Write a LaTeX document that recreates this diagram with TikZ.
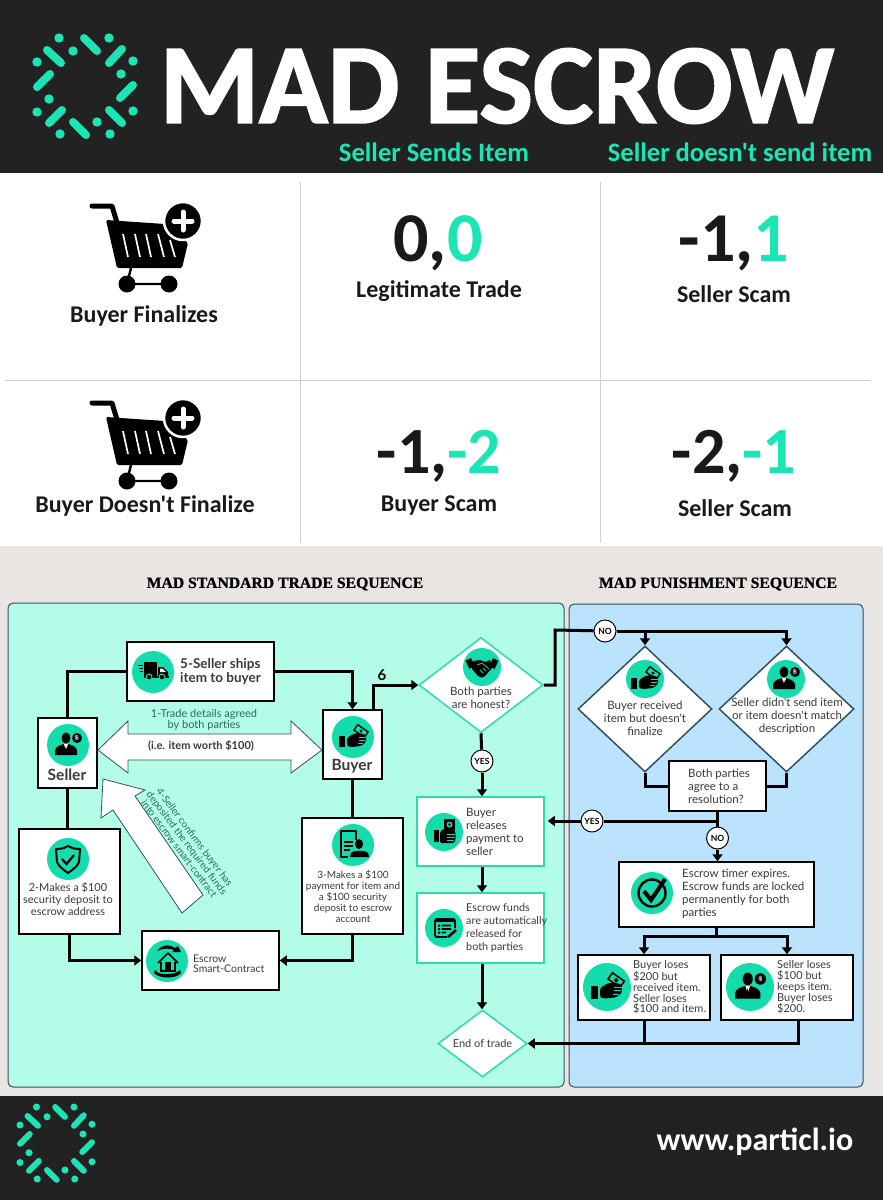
\documentclass[tikz,border=0pt]{standalone}
\usepackage{fontspec}
\newfontfamily\calfont{Carlito}
\newfontfamily\titlefont{Carlito}[BoldFeatures={FakeBold=1.6}]
\newfontfamily\chartfont{Lato}
\newfontfamily\headfont{Liberation Serif}[BoldFeatures={FakeBold=0.8}]
\usetikzlibrary{arrows.meta,shapes.geometric}
\definecolor{darkbar}{HTML}{222222}
\definecolor{mint}{HTML}{14DCAC}
\definecolor{headmint}{HTML}{1CE5B5}
\definecolor{sandbg}{HTML}{E9E5E2}
\definecolor{greenpanel}{HTML}{B3FCE8}
\definecolor{bluepanel}{HTML}{BBE3FD}
\definecolor{gridgrey}{HTML}{CFCFCF}
\definecolor{tealline}{HTML}{2CDAB0}
\definecolor{slateline}{HTML}{33505F}
\definecolor{tealtext}{HTML}{2B6B60}
\definecolor{bodytext}{HTML}{3A3A3A}
\tikzset{
  bigtext/.style={font=\calfont\fontsize{24}{28}\selectfont\bfseries,text=black!90},
  score/.style={font=\calfont\fontsize{70}{74}\selectfont\bfseries,text=black!90},
  scorelow/.style={font=\calfont\fontsize{66}{70}\selectfont\bfseries,text=black!90},
  headtext/.style={font=\calfont\fontsize{26.6}{30}\selectfont\bfseries,text=headmint},
  seqhead/.style={font=\headfont\fontsize{15.7}{20}\selectfont\bfseries,text=black},
  boxblack/.style={draw=black,line width=1.5pt,fill=white,inner sep=0pt},
  boxteal/.style={draw=tealline,line width=1.5pt,fill=white,inner sep=0pt},
  dmdteal/.style={diamond,draw=tealline,line width=1.5pt,fill=white,inner sep=0pt},
  dmdslate/.style={diamond,draw=slateline,line width=1.5pt,fill=white,inner sep=0pt},
  badge/.style={circle,draw=black,line width=1pt,fill=white,inner sep=0pt,minimum size=22pt,
    font=\chartfont\fontsize{8.5}{10}\selectfont\bfseries},
  bubble/.style={circle,fill=mint,inner sep=0pt},
  flowtext/.style={font=\chartfont\fontsize{11.5}{13}\selectfont,text=bodytext},
  flowline/.style={line width=3pt,draw=black},
  flowto/.style={flowline,-{Triangle[width=10pt,length=7pt]}},
  blockarrow/.style={draw=slateline,line width=.8pt,fill=white,line join=miter},
  logobar/.style={line width=8pt,line cap=round,draw=headmint},
  % icons: drawn for a bubble of radius 21 around the origin
  sellericon/.pic={
    \fill[black] (-2,-7) ellipse[x radius=4.4,y radius=5.6];
    \fill[black] (-13,10) -- (-13,5) .. controls (-12,1) and (-7,0) .. (-4,-1) -- (0,-1) .. controls (3,0) and (8,1) .. (9,5) -- (9,10) -- cycle;
    \fill[white] (-4,-1) -- (0,-1) -- (-2,6) -- cycle;
    \fill[black] (-2,1) -- (-1,5) -- (-2,7) -- (-3,5) -- cycle;
    \fill[black] (9,-7) circle[radius=5];
    \node[text=white,inner sep=0pt,font=\fontsize{7}{7}\selectfont\bfseries] at (9,-7) {\$};
  },
  buyericon/.pic={
    \fill[black] (-14,-1) rectangle (-8,10);
    \fill[black,rotate around={-35:(8,-6)}] (1,-10) rectangle (15,-2);
    \fill[mint,rotate around={-35:(8,-6)}] (2.5,-8.5) rectangle (13.5,-3.5);
    \fill[black,rotate around={-35:(8,-6)}] (8,-6) circle[radius=1.8];
    \fill[black,rounded corners=1.5pt] (-6,1) -- (0,-3) -- (6,-4) -- (13,-2) -- (13,5) -- (8,9) -- (-2,10) -- (-6,9) -- cycle;
    \draw[mint,line width=.7pt] (6,0) -- (13,0) (6,3) -- (12,3) (5,6) -- (10,6);
  },
  truckicon/.pic={
    \fill[black] (-9,-10) rectangle (4,4);
    \fill[black] (5,-5) -- (10,-5) -- (15,0) -- (15,4) -- (5,4) -- cycle;
    \fill[black] (-9,4) rectangle (16,5.5);
    \fill[white] (7,-3.5) -- (9.5,-3.5) -- (12.8,0) -- (7,0) -- cycle;
    \filldraw[fill=black,draw=mint,line width=1pt] (-4,5) circle[radius=3];
    \filldraw[fill=black,draw=mint,line width=1pt] (9,5) circle[radius=3];
    \draw[black,line width=1pt] (-15,-7) -- (-10,-7) (-14,-4) -- (-10,-4) (-13,-1) -- (-10,-1);
  },
  shieldicon/.pic={
    \draw[black,line width=2pt,line join=round] (0,-13) .. controls (-5,-10) and (-9,-10) .. (-12,-10) -- (-11,3) .. controls (-9,8) and (-4,11) .. (0,14) .. controls (4,11) and (9,8) .. (11,3) -- (12,-10) .. controls (9,-10) and (5,-10) .. (0,-13) -- cycle;
    \draw[black,line width=2.2pt] (-6,0) -- (-1.5,5) -- (6,-4);
  },
  docicon/.pic={
    \draw[black,line width=1.6pt,line join=round] (-5,12) -- (-12,12) -- (-12,-14) -- (3,-14) -- (3,-5);
    \draw[black,line width=1.2pt] (-9,-3) -- (0,-3) (-9,1) -- (0,1) (-9,5) -- (-3,5);
    \fill[black] (6,-1) ellipse[x radius=4,y radius=5];
    \fill[black] (-3,12) -- (-2,8) .. controls (0,5) and (13,5) .. (15,8) -- (16,12) -- cycle;
  },
  houseicon/.pic={
    \fill[black] (-10,-10) .. controls (-5,-17) and (3,-17) .. (8,-13) -- (11,-15) -- (14,-9) -- (5,-9) -- (7,-11) .. controls (3,-13) and (-4,-13) .. (-10,-10) -- cycle;
    \draw[black,line width=1.6pt,line join=round] (-9,2) -- (1,-8) -- (11,2);
    \draw[black,line width=1.6pt] (-6,1) -- (-6,10) -- (8,10) -- (8,1);
    \fill[black] (-2,1) rectangle (4,9);
    \fill[black] (-12,9) .. controls (-8,14) and (-2,13) .. (1,13) .. controls (5,13) and (10,12) .. (13,9) -- (14,12) .. controls (9,18) and (-7,18) .. (-13,12) -- cycle;
  },
  shakeicon/.pic={
    \fill[black,rotate around={25:(-12,-4)}] (-15,-8) rectangle (-9,1);
    \fill[black,rotate around={-25:(12,-4)}] (9,-8) rectangle (15,1);
    \fill[black] (-9,-6) -- (-2,-7) -- (3,-5) -- (8,-7) -- (10,1) -- (3,9) .. controls (0,11) and (-2,11) .. (-4,9) -- (-10,2) -- cycle;
    \draw[mint,line width=.8pt] (-5,-2) -- (0,-4) -- (7,2) (1,1) -- (4,4) (-2,3) -- (1,6);
  },
  cashicon/.pic={
    \fill[black] (-10,-2) rectangle (-5,10);
    \fill[black,rounded corners=1.5pt] (-4,0) -- (-1,-3) -- (10,-3) .. controls (12,2) and (12,7) .. (10,11) -- (-4,11) -- cycle;
    \fill[black] (0,-13) rectangle (11,-2);
    \fill[mint] (5.5,-7.5) circle[radius=3];
    \fill[black] (5.5,-7.5) circle[radius=1.3];
    \draw[mint,line width=.7pt] (3,2) -- (11,2) (3,5) -- (11,5) (3,8) -- (10,8);
  },
  listicon/.pic={
    \draw[black,line width=1.8pt,line join=round,rounded corners=1.5pt] (3,9) -- (-9,9) -- (-9,-9) -- (11,-9) -- (11,0);
    \fill[black] (-9,-9) rectangle (11,-6);
    \fill[black] (-6,-3.5) rectangle (-4,-1.5) (-6,0) rectangle (-4,2) (-6,3.5) rectangle (-4,5.5);
    \fill[black] (-2.5,-3.3) rectangle (7,-1.7) (-2.5,.2) rectangle (7,1.8) (-2.5,3.7) rectangle (2,5.3);
    \draw[black,line width=2.6pt] (4,9) -- (12,2);
  },
  checkicon/.pic={
    \draw[black,line width=2.4pt] (0,0) circle[radius=13.5];
    \draw[black,line width=4pt,line join=miter] (-8,-2) -- (-1,7) -- (13,-14);
  },
  cartplus/.pic={
    \draw[black,line width=5pt,line cap=round,line join=round] (92,206) -- (112,206) -- (118,226);
    \fill[black,rounded corners=1.5pt] (106,220) -- (165,224) -- (188,243) -- (182,268) -- (117,268) -- cycle;
    \draw[white,line width=1.7pt] (123,234) -- (128,257) (135,234) -- (140,257) (146,234) -- (151,257) (158,234) -- (164,257) (170,240) -- (175,257);
    \fill[black] (127,284) circle[radius=8.5];
    \fill[black] (169,284) circle[radius=8.5];
    \draw[black,line width=2.4pt] (127,284) -- (169,284) (127,284) -- (131,268);
    \filldraw[fill=black,draw=white,line width=2.5pt] (183,221) circle[radius=19];
    \draw[white,line width=5pt,line cap=round] (183,212) -- (183,230) (174,221) -- (192,221);
  },
  particllogo/.pic={
    \fill[headmint] (59,38) circle[radius=4.7];
    \fill[headmint] (109,38) circle[radius=4.7];
    \fill[headmint] (73,51) circle[radius=4.7];
    \fill[headmint] (37,62) circle[radius=4.7];
    \fill[headmint] (133,61) circle[radius=4.7];
    \fill[headmint] (121,74) circle[radius=4.7];
    \fill[headmint] (49,99) circle[radius=4.7];
    \fill[headmint] (37,112) circle[radius=4.7];
    \fill[headmint] (133,111) circle[radius=4.7];
    \fill[headmint] (97,122) circle[radius=4.7];
    \fill[headmint] (60,134) circle[radius=4.7];
    \fill[headmint] (110,134) circle[radius=4.7];
    \draw[logobar] (84,38) -- (97,51);
    \draw[logobar] (47,50) -- (61,63);
    \draw[logobar] (109,63) -- (122,49);
    \draw[logobar] (37,87) -- (50,74);
    \draw[logobar] (120,98) -- (133,85);
    \draw[logobar] (49,123) -- (62,110);
    \draw[logobar] (109,110) -- (122,123);
    \draw[logobar] (73,122) -- (86,135);
  }
}
\begin{document}
\begin{tikzpicture}[x=1pt,y=-1pt]
  \useasboundingbox (0,0) rectangle (883,1200);
  % bands
  \fill[white] (0,0) rectangle (883,1200);
  \fill[darkbar] (0,0) rectangle (883,173);
  \fill[sandbg] (0,546) rectangle (883,1096);
  \fill[darkbar] (0,1096) rectangle (883,1200);
  % heading
  \pic at (0,0) {particllogo};
  \node[font=\titlefont\fontsize{113.5}{120}\selectfont\bfseries,text=white,inner sep=0pt] (title) at (497,86) {MAD ESCROW};
  \node[headtext,inner sep=0pt] (colsend) at (434,152) {Seller Sends Item};
  \node[headtext,inner sep=0pt] (colkeep) at (740,152) {Seller doesn't send item};
  % payoff table
  \draw[gridgrey,line width=1pt] (300,182) -- (300,543);
  \draw[gridgrey,line width=1pt] (600,182) -- (600,543);
  \draw[gridgrey,line width=1pt] (5,380) -- (870,380);
  \pic at (0,0) {cartplus};
  \pic at (0,197) {cartplus};
  \node[bigtext,inner sep=0pt] (rowfin) at (144,316) {Buyer Finalizes};
  \node[bigtext,inner sep=0pt] (rownofin) at (145,506) {Buyer Doesn't Finalize};
  \node[score,inner sep=0pt] (payaa) at (438,243) {0,\textcolor{headmint}{0}};
  \node[bigtext,inner sep=0pt] (labaa) at (439,291) {Legitimate Trade};
  \node[score,inner sep=0pt] (payab) at (734,243) {-1,\textcolor{headmint}{1}};
  \node[bigtext,inner sep=0pt] (labab) at (734,294) {Seller Scam};
  \node[scorelow,inner sep=0pt] (payba) at (439,456) {-1,\textcolor{headmint}{-2}};
  \node[bigtext,inner sep=0pt] (labba) at (439,506) {Buyer Scam};
  \node[scorelow,inner sep=0pt] (paybb) at (734,456) {-2,\textcolor{headmint}{-1}};
  \node[bigtext,inner sep=0pt] (labbb) at (735,508) {Seller Scam};
  % sequence panels
  \node[seqhead,inner sep=0pt] (headstd) at (285,584) {MAD STANDARD TRADE SEQUENCE};
  \node[seqhead,inner sep=0pt] (headpun) at (718,584) {MAD PUNISHMENT SEQUENCE};
  \draw[fill=greenpanel,draw=slateline,line width=1pt,rounded corners=5pt] (8,603) rectangle (564,1087);
  \draw[fill=bluepanel,draw=slateline,line width=1pt,rounded corners=5pt] (569,604) rectangle (863,1087);
  % block arrows
  \draw[blockarrow] (98,750) -- (128,721) -- (128,734) -- (291,734) -- (291,721) -- (322,750) -- (291,773) -- (291,760) -- (128,760) -- (128,773) -- cycle;
  \draw[blockarrow] (103,779) -- (145,790) -- (135,796) -- (203,895) -- (182,913) -- (113,810) -- (101,818) -- cycle;
  \node[font=\chartfont\fontsize{11}{11.5}\selectfont,text=tealtext,align=center,inner sep=0pt] (stepone) at (204,720) {1-Trade details agreed\\by both parties};
  \node[font=\chartfont\fontsize{11}{12}\selectfont\bfseries,text=bodytext,inner sep=0pt] (stepnote) at (201,746) {(i.e. item worth \$100)};
  \node[font=\chartfont\fontsize{10}{9.7}\selectfont,text=tealtext,align=center,inner sep=0pt,rotate=-53] (stepfour) at (187,843) {4-Seller confirms buyer has\\deposited the required funds\\into escrow smart-contract};
  % left loop
  \node[boxblack,minimum width=147pt,minimum height=59pt] (ship) at (200.5,671.5) {};
  \node[bubble,minimum size=42pt] (shipdot) at (153,672) {};
  \pic at (shipdot) {truckicon};
  \node[anchor=west,font=\chartfont\fontsize{13.5}{14}\selectfont\bfseries,text=bodytext,align=left,inner sep=0pt] (shiptext) at (180,672) {5-Seller ships\\item to buyer};
  \node[boxblack,minimum width=59pt,minimum height=70pt] (seller) at (67.5,753) {};
  \node[bubble,minimum size=42pt] (sellerdot) at (68,745) {};
  \pic at (sellerdot) {sellericon};
  \node[font=\chartfont\fontsize{15.5}{16}\selectfont\bfseries,text=bodytext,inner sep=0pt] (sellertext) at (67,775) {Seller};
  \node[boxblack,minimum width=59pt,minimum height=69pt] (buyer) at (352.5,744.5) {};
  \node[bubble,minimum size=42pt] (buyerdot) at (353,737) {};
  \pic at (buyerdot) {buyericon};
  \node[font=\chartfont\fontsize{15.5}{16}\selectfont\bfseries,text=bodytext,inner sep=0pt] (buyertext) at (352,766) {Buyer};
  \node[boxblack,minimum width=101pt,minimum height=105pt] (deposit) at (69.5,881.5) {};
  \node[bubble,minimum size=42pt] (depositdot) at (68,859) {};
  \pic at (depositdot) {shieldicon};
  \node[flowtext,font=\chartfont\fontsize{11}{12}\selectfont,align=center,inner sep=0pt] (deposittext) at (68,899) {2-Makes a \$100\\security deposit to\\escrow address};
  \node[boxblack,minimum width=101pt,minimum height=116pt] (payment) at (352.5,876) {};
  \node[bubble,minimum size=42pt] (paymentdot) at (353,845) {};
  \pic at (paymentdot) {docicon};
  \node[flowtext,font=\chartfont\fontsize{10}{11}\selectfont,align=center,inner sep=0pt] (paymenttext) at (353,896) {3-Makes a \$100\\payment for item and\\a \$100 security\\deposit to escrow\\account};
  \node[boxblack,minimum width=137pt,minimum height=59pt] (escrow) at (210.5,960.5) {};
  \node[bubble,minimum size=42pt] (escrowdot) at (167,961) {};
  \pic at (escrowdot) {houseicon};
  \node[anchor=west,flowtext,font=\chartfont\fontsize{10.5}{10}\selectfont,align=left,inner sep=0pt] (escrowtext) at (193,964) {Escrow\\Smart-Contract};
  \draw[flowline] (seller.north) |- (ship.west);
  \draw[flowto] (ship.east) -| (buyer.north);
  \draw[flowline] (seller.south) -- (seller.south |- deposit.north);
  \draw[flowto] (deposit.south) |- (escrow.west);
  \draw[flowline] (buyer.south) -- (payment.north);
  \draw[flowto] (payment.south) |- (escrow.east);
  \coordinate (buyerout) at ([xshift=21pt]buyer.north);
  % honest path
  \node[dmdteal,minimum width=124pt,minimum height=95pt] (honest) at (481,685) {};
  \node[bubble,minimum size=38pt] (honestdot) at (482,667) {};
  \pic at (honestdot) {shakeicon};
  \node[flowtext,align=center,inner sep=0pt] (honesttext) at (481,698) {Both parties\\are honest?};
  \draw[flowto] (buyerout) |- (honest.west);
  \node[font=\chartfont\fontsize{15}{16}\selectfont\bfseries,inner sep=0pt] (stepsix) at (382,675) {6};
  \node[boxteal,minimum width=127pt,minimum height=69pt] (release) at (480.5,831.5) {};
  \node[bubble,minimum size=38pt] (releasedot) at (444,832) {};
  \pic at (releasedot) {cashicon};
  \node[anchor=west,flowtext,align=left,inner sep=0pt] (releasetext) at (466,832) {Buyer\\releases\\payment to\\seller};
  \node[boxteal,minimum width=127pt,minimum height=70pt] (funds) at (480.5,928) {};
  \node[bubble,minimum size=38pt] (fundsdot) at (444,928) {};
  \pic at (fundsdot) {listicon};
  \node[anchor=west,flowtext,font=\chartfont\fontsize{10.8}{13}\selectfont,align=left,inner sep=0pt] (fundstext) at (466,928) {Escrow funds\\are automatically\\released for\\both parties};
  \node[dmdteal,minimum width=89pt,minimum height=67pt] (endtrade) at (482.5,1043.5) {};
  \node[flowtext,font=\chartfont\fontsize{11}{13}\selectfont,inner sep=0pt] (endtext) at (482.5,1043.5) {End of trade};
  \node[badge] (yesfirst) at (482,761) {YES};
  \draw[flowline] (honest.south) -- (yesfirst);
  \draw[flowto] (yesfirst) -- (yesfirst |- release.north);
  \draw[flowto] (release.south -| yesfirst) -- (yesfirst |- funds.north);
  \draw[flowto] (funds.south -| yesfirst) -- (yesfirst |- endtrade.north);
  % punishment path
  \node[dmdslate,minimum width=134pt,minimum height=126pt] (received) at (645,709) {};
  \node[bubble,minimum size=38pt] (receiveddot) at (645,679) {};
  \pic at (receiveddot) {buyericon};
  \node[flowtext,align=center,inner sep=0pt] (receivedtext) at (645,718) {Buyer received\\item but doesn't\\finalize};
  \node[dmdslate,minimum width=135pt,minimum height=126pt] (notsent) at (786.5,709) {};
  \node[bubble,minimum size=38pt] (notsentdot) at (786,679) {};
  \pic at (notsentdot) {sellericon};
  \node[flowtext,align=center,inner sep=0pt] (notsenttext) at (787,716) {Seller didn't send item\\or item doesn't match\\description};
  \node[boxblack,minimum width=97pt,minimum height=50pt] (agree) at (717.5,786) {};
  \node[anchor=west,flowtext,align=left,inner sep=0pt] (agreetext) at (688,786) {Both parties\\agree to a\\resolution?};
  \node[boxblack,minimum width=195pt,minimum height=65pt] (timer) at (716.5,894.5) {};
  \node[bubble,minimum size=42pt] (timerdot) at (652,893) {};
  \pic at (timerdot) {checkicon};
  \node[anchor=west,flowtext,align=left,inner sep=0pt] (timertext) at (682,894) {Escrow timer expires.\\Escrow funds are locked\\permanently for both\\parties};
  \node[boxblack,minimum width=132pt,minimum height=65pt] (lossbuyer) at (644,987.5) {};
  \node[bubble,minimum size=48pt] (lossbuyerdot) at (607,987) {};
  \pic[scale=1.15] at (lossbuyerdot) {buyericon};
  \node[anchor=west,flowtext,font=\chartfont\fontsize{11}{10.7}\selectfont,align=left,inner sep=0pt] (lossbuyertext) at (633,987.5) {Buyer loses\\\$200 but\\received item.\\Seller loses\\\$100 and item.};
  \node[boxblack,minimum width=132pt,minimum height=65pt] (lossseller) at (787,987.5) {};
  \node[bubble,minimum size=48pt] (losssellerdot) at (750,987) {};
  \pic[scale=1.15] at (losssellerdot) {sellericon};
  \node[anchor=west,flowtext,font=\chartfont\fontsize{11}{10.7}\selectfont,align=left,inner sep=0pt] (losssellertext) at (777,987.5) {Seller loses\\\$100 but\\keeps item.\\Buyer loses\\\$200.};
  \coordinate (honestup) at (555,630);
  \coordinate (agreejoin) at (717.5,821);
  \coordinate (timersplit) at (716.5,936);
  \coordinate (sellerdrop) at ([xshift=11pt]lossseller.south);
  \node[badge] (nofirst) at (605,631) {NO};
  \node[badge] (yespay) at (592,821) {YES};
  \node[badge] (nopay) at (717.5,838) {NO};
  \draw[flowline] (honest.east) -| (honestup) -- (nofirst);
  \draw[flowto] (nofirst) -| (received.north);
  \draw[flowto] (nofirst) -| (notsent.north);
  \draw[flowline] (received.south) |- (agree.west);
  \draw[flowline] (notsent.south) |- (agree.east);
  \draw[flowline] (agree.south) -- (nopay);
  \draw[flowto] (nopay) -- (nopay |- timer.north);
  \draw[flowline] (agreejoin) -- (yespay);
  \draw[flowto] (yespay) -- ([xshift=3pt]release.east |- yespay);
  \draw[flowline] (timer.south -| timersplit) -- (timersplit);
  \draw[flowto] (timersplit) -| (lossbuyer.north);
  \draw[flowto] (timersplit) -| (lossseller.north);
  \draw[flowline] (lossbuyer.south) -- (lossbuyer.south |- endtrade.east);
  \draw[flowto] (sellerdrop) |- (endtrade.east);
  % footer
  \begin{scope}
    \tikzset{logobar/.style={line width=6pt,line cap=round,draw=headmint}}
    \pic[scale=.75] at (-7.75,1078.5) {particllogo};
  \end{scope}
  \node[font=\calfont\fontsize{32}{36}\selectfont\bfseries,text=white,inner sep=0pt] (website) at (755,1142) {www.particl.io};
\end{tikzpicture}
\end{document}
